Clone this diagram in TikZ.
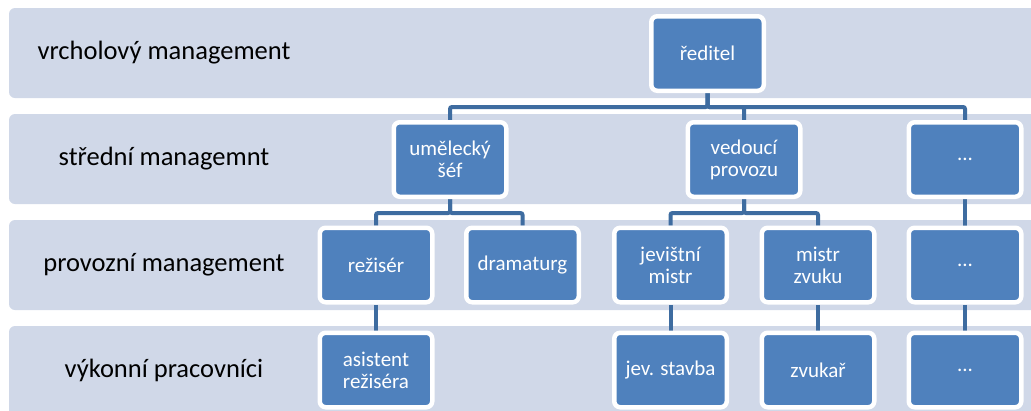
\documentclass[tikz,border=0pt]{standalone}
\usepackage{fontspec}
\setmainfont{Carlito}
\definecolor{bandcol}{RGB}{208,216,232}
\definecolor{boxblue}{RGB}{79,129,189}
\definecolor{conncol}{RGB}{62,108,160}
\pgfdeclarelayer{bg}
\pgfsetlayers{bg,main}
\begin{document}
\begin{tikzpicture}[x=1pt,y=-1pt,
  bandbox/.style={fill=bandcol, rounded corners=6pt},
  unit/.style={rectangle, fill=boxblue, draw=white, line width=4.5pt, rounded corners=6pt,
    minimum width=112.5pt, minimum height=74.5pt, inner sep=0pt, text=white,
    font=\fontsize{21}{22}\selectfont, align=center},
  lvl/.style={anchor=center, font=\fontsize{26.5}{30}\selectfont, text=black},
  link/.style={draw=conncol, line width=4pt, rounded corners=2pt}]
\useasboundingbox (0,0) rectangle (1031,410);
\begin{pgfonlayer}{bg}
  \fill[white] (0,0) rectangle (1031,410);
  \path[bandbox] (9,8) rectangle (1045,98);
  \path[bandbox] (9,114) rectangle (1045,204);
  \path[bandbox] (9,220) rectangle (1045,310);
  \path[bandbox] (9,326) rectangle (1045,420);
\end{pgfonlayer}

\node[lvl] (l1) at (164,53) {vrcholový management};
\node[lvl] (l2) at (164,159) {střední managemnt};
\node[lvl] (l3) at (164,265) {provozní management};
\node[lvl] (l4) at (164,370) {výkonní pracovníci};

\node[unit] (dir) at (707.5,53.5) {ředitel};

\node[unit] (us) at (450,159.5) {umělecký\\šéf};
\node[unit] (vp) at (744,159.5) {vedoucí\\provozu};
\node[unit] (d2) at (965,159.5) {...};

\node[unit] (rez) at (376,265) {režisér};
\node[unit] (dra) at (522.5,265) {dramaturg};
\node[unit] (jm) at (670.5,265) {jevištní\\mistr};
\node[unit] (mz) at (818,265) {mistr\\zvuku};
\node[unit] (d3) at (965,265) {...};

\node[unit] (ar) at (376,370) {asistent\\režiséra};
\node[unit] (js) at (670.5,370) {jev. stavba};
\node[unit] (zv) at (818,370) {zvukař};
\node[unit] (d4) at (965,370) {...};

\begin{pgfonlayer}{bg}
  \draw[link] (dir.south) -- (dir.south |- 0,107) -| (us.north);
  \draw[link] (dir.south) -- (dir.south |- 0,107) -| (vp.north);
  \draw[link] (dir.south) -- (dir.south |- 0,107) -| (d2.north);
  \draw[link] (us.south) -- (us.south |- 0,213) -| (rez.north);
  \draw[link] (us.south) -- (us.south |- 0,213) -| (dra.north);
  \draw[link] (vp.south) -- (vp.south |- 0,213) -| (jm.north);
  \draw[link] (vp.south) -- (vp.south |- 0,213) -| (mz.north);
  \draw[link] (d2.south) -- (d3.north);
  \draw[link] (rez.south) -- (ar.north);
  \draw[link] (jm.south) -- (js.north);
  \draw[link] (mz.south) -- (zv.north);
  \draw[link] (d3.south) -- (d4.north);
\end{pgfonlayer}
\end{tikzpicture}
\end{document}
